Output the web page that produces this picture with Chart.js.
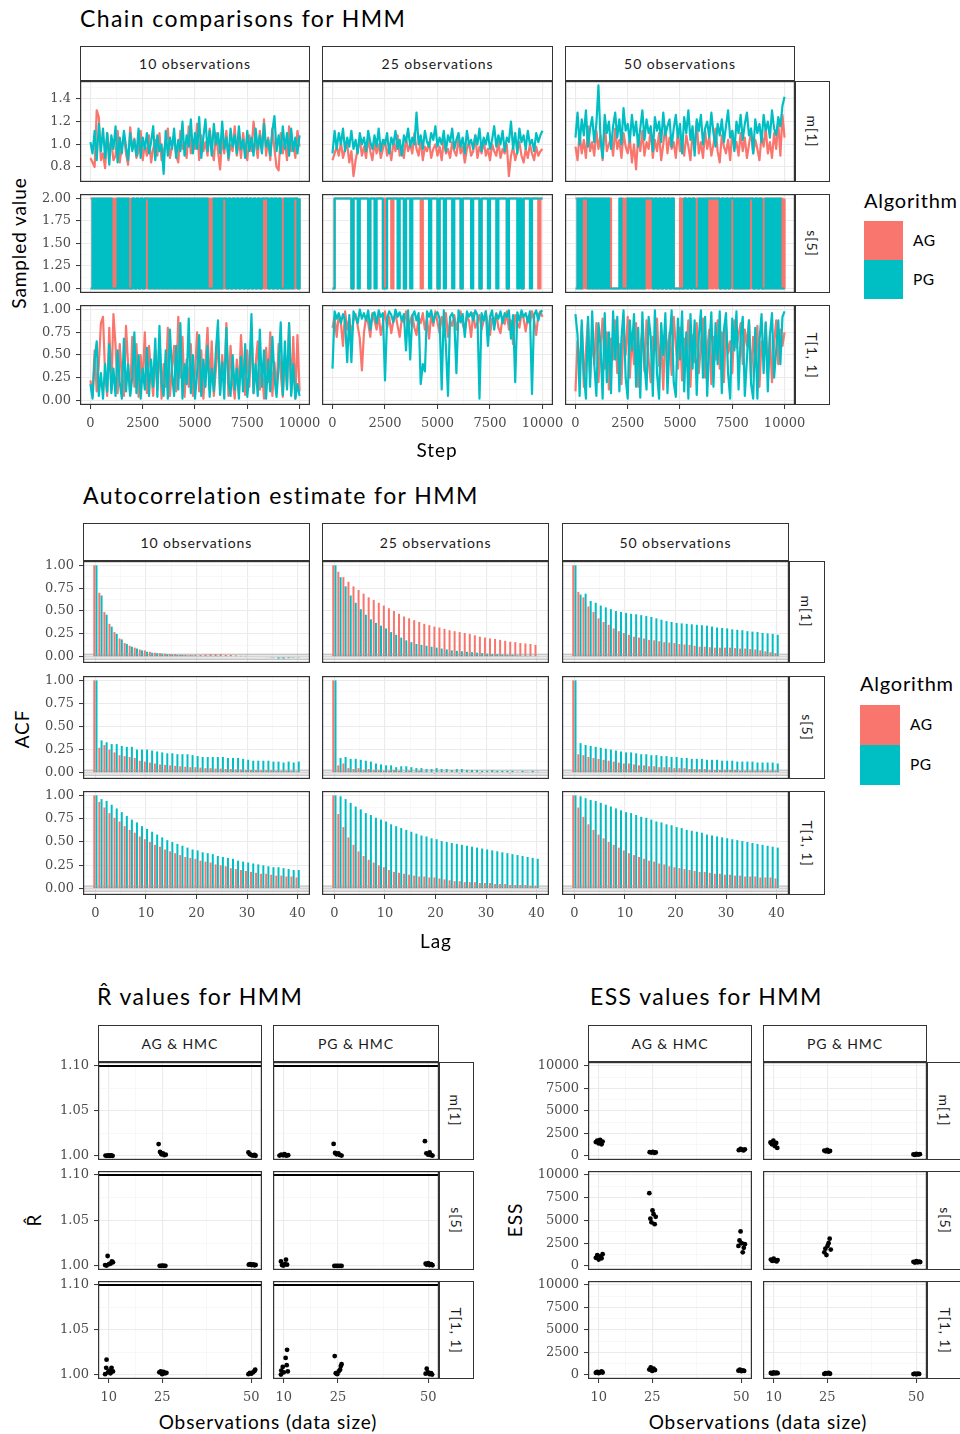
<!DOCTYPE html>
<html lang="en">
<head>
<meta charset="UTF-8">
<title>HMM chain diagnostics</title>
<script src="https://cdn.jsdelivr.net/npm/chart.js@4"></script>
<style>
  body { margin: 0; background: #fff; }
  #page { position: relative; width: 960px; height: 1434px; overflow: hidden; font-family: 'Lato', sans-serif; color: #000; }
  #page canvas { position: absolute; }
  .txt { position: absolute; white-space: nowrap; line-height: 1; }
  .title { font-size: 23px; letter-spacing: 1.4px; }
  .axt { font-size: 19px; letter-spacing: 0.9px; transform: translate(-50%, -50%); }
  .axt.rot { transform: translate(-50%, -50%) rotate(-90deg); }
  .leg { font-size: 20px; letter-spacing: 0.8px; }
  .legk { font-size: 15.5px; letter-spacing: 0.5px; transform: translateY(-50%); }
  .strip { position: absolute; box-sizing: border-box; border: 1.2px solid #333; background: #fff; display: flex; align-items: center; justify-content: center; font-size: 14px; letter-spacing: 0.9px; color: #1A1A1A; }
  .strip span { white-space: nowrap; }
  .strip.v span { transform: rotate(90deg); }
  .swatch { position: absolute; }
</style>
</head>
<body>
<div id="page"></div>
<script>
// colours used by ggplot for the two samplers
const RED = '#F8766D', TEAL = '#00BFC4';

// ---- trace data (one value every 100 steps) ----
const M1_10_AG = [0.88,0.84,0.80,1.30,1.24,0.86,0.92,0.79,1.10,0.95,
  1.02,0.86,0.90,1.12,0.84,0.98,1.08,0.92,0.82,1.15,
  0.96,1.05,0.88,0.94,1.12,0.86,1.00,0.90,1.08,0.84,
  0.96,1.04,0.90,1.10,0.86,0.94,1.02,1.14,0.88,0.98,
  1.06,0.90,0.84,1.12,0.96,1.00,0.88,1.16,0.92,1.04,
  0.96,1.18,0.86,1.08,0.94,1.02,0.90,1.14,0.98,0.86,
  1.10,0.94,0.78,1.06,0.92,1.12,0.86,1.00,0.94,1.16,
  0.90,1.04,0.88,1.10,0.96,0.86,1.08,0.94,1.20,1.02,
  0.88,1.12,0.94,1.22,0.90,1.06,0.86,1.14,0.96,0.80,
  0.77,1.10,0.92,1.04,0.86,1.16,0.94,1.02,0.88,1.12,
  0.98];
const M1_10_PG = [1.02,0.92,1.12,0.86,1.18,0.94,1.14,0.88,1.10,0.82,
  1.08,0.96,1.16,0.84,1.06,0.92,1.12,0.98,0.86,1.10,
  0.94,1.04,0.90,1.14,0.88,1.06,0.96,1.10,0.92,1.02,
  1.16,0.86,1.08,0.94,1.00,0.74,1.12,0.90,1.06,0.96,
  1.14,0.88,1.04,0.94,1.20,0.90,1.08,0.98,1.22,0.92,
  1.10,0.96,1.24,0.88,1.06,1.22,0.94,1.12,0.90,1.18,
  1.00,1.10,0.92,1.20,0.96,1.06,0.88,1.14,0.98,1.08,
  0.92,1.16,0.96,1.04,0.88,1.12,0.94,1.06,0.90,1.14,
  0.96,1.08,0.92,1.18,0.98,1.04,0.90,1.12,1.25,0.94,
  1.08,0.92,1.16,0.96,1.10,0.90,1.14,0.94,1.06,0.92,
  1.08];
const M1_25_AG = [0.86,0.92,0.98,0.90,1.02,0.88,0.96,1.00,0.84,0.94,
  0.72,0.86,0.96,1.04,0.90,0.98,0.88,1.06,0.94,0.86,
  1.02,0.92,1.00,0.88,0.96,1.04,0.90,0.98,0.86,1.02,
  0.94,1.08,0.90,0.98,0.88,1.06,0.94,1.00,0.92,1.10,
  0.96,0.90,1.04,0.86,0.98,0.94,1.02,0.88,0.96,1.00,
  0.90,0.98,0.86,1.04,0.92,0.96,0.88,1.02,0.94,0.90,
  1.06,0.92,0.98,0.84,0.96,1.02,0.90,0.94,1.08,0.88,
  0.98,0.92,1.04,0.90,0.96,0.86,1.00,0.94,0.90,1.02,
  0.88,0.96,0.92,1.00,0.72,0.90,0.98,0.86,0.94,1.02,
  0.90,0.84,0.96,0.88,1.00,0.92,0.86,0.98,0.90,0.94,
  0.96];
const M1_25_PG = [0.92,1.12,0.96,1.10,1.00,1.14,0.94,1.06,0.98,1.12,
  0.96,1.04,0.92,1.10,1.00,1.06,0.94,1.12,1.02,0.96,
  1.08,0.98,1.14,0.94,1.04,1.00,1.10,0.92,1.06,1.00,
  1.12,0.96,1.04,0.90,1.08,1.02,1.14,0.98,1.06,1.00,
  1.28,1.00,1.08,0.96,1.12,1.02,0.98,1.10,1.04,1.16,
  0.98,1.06,1.00,1.12,0.94,1.08,1.02,1.14,0.96,1.04,
  1.10,0.98,1.06,0.92,1.12,1.00,1.04,0.96,1.08,1.00,
  1.14,0.94,1.06,1.00,1.10,0.96,1.04,1.16,0.98,1.08,
  1.00,1.12,0.94,1.06,1.02,1.20,0.96,1.10,0.92,1.14,
  1.02,1.08,0.96,1.12,1.00,1.04,0.94,1.10,1.02,1.08,
  1.12];
const M1_50_AG = [0.98,0.86,1.10,0.92,1.04,0.88,1.16,0.94,1.02,0.90,
  1.12,0.96,1.08,0.86,1.20,0.94,1.00,1.06,0.90,1.14,
  0.96,1.04,0.88,1.10,0.98,0.92,1.06,0.84,1.00,0.78,
  1.08,0.94,1.12,0.90,1.02,0.96,1.14,0.88,1.04,0.94,
  1.10,0.86,1.00,1.16,0.92,1.06,0.96,1.02,0.88,1.12,
  0.94,1.04,0.90,1.08,0.98,0.86,1.10,0.96,1.20,0.92,
  1.02,0.88,1.12,0.96,1.06,0.90,1.00,1.14,0.94,0.84,
  1.08,0.98,0.92,1.04,0.86,1.12,0.96,1.02,0.90,1.10,
  0.94,1.06,0.88,1.00,1.12,0.92,1.04,0.96,0.86,1.08,
  0.98,1.14,0.92,1.02,0.88,1.10,0.96,1.20,0.90,1.26,
  1.06];
const M1_50_PG = [1.06,1.28,1.00,1.22,1.08,1.30,0.98,1.14,1.24,1.02,
  1.18,1.52,1.04,0.88,1.26,1.10,1.20,0.96,1.16,1.28,
  1.06,1.22,1.00,1.32,1.12,1.18,1.02,1.26,1.08,1.20,
  0.98,1.14,1.30,1.04,1.22,1.10,1.16,0.94,1.24,1.12,
  1.20,1.02,1.28,1.08,1.16,1.22,0.98,1.14,1.26,1.06,
  1.18,0.92,1.24,1.10,1.30,1.04,1.16,0.90,1.22,1.12,
  1.26,1.00,1.14,1.20,1.06,1.28,1.10,0.98,1.18,1.08,
  1.22,1.02,1.16,1.30,1.06,1.12,0.94,1.20,1.10,1.26,
  1.04,1.18,1.28,1.08,1.14,0.92,1.22,1.10,1.18,1.02,
  1.26,1.12,1.20,1.06,1.30,1.14,1.08,1.24,1.16,1.34,
  1.42];

const S5_10_AG = [2,1,2,1,2,1,2,1,2,1, 2,1,2,1,2,1,2,1,2,1, 2,1,2,1,2,1,2,1,2,1,
  2,1,2,1,2,1,2,1,2,1, 2,1,2,1,2,1,2,1,2,1, 2,1,2,1,2,1,2,1,2,1, 2,1,2,1,2,1,2,1,2,1,
  2,1,2,1,2,1,2,1,2,1, 2,1,2,1,2,1,2,1,2,1, 2,1,2,1,2,1,2,1,2,1, 2];
const S5_10_PG = [1,2,1,2,1,2,1,2,1,2, 1,1,1,2,1,2,1,2,1,1, 2,1,2,1,2,1,2,2,1,2,
  1,2,1,2,1,2,1,2,1,2, 1,2,1,2,1,2,1,2,1,2, 1,2,1,2,1,2,1,1,1,2, 1,2,1,2,2,1,2,1,2,1,
  2,1,2,1,2,1,2,1,2,1, 2,1,2,2,2,1,2,1,2,1, 2,1,1,2,1,2,1,2,2,1, 2];
const S5_25_AG = [1,2,2,2,2,2,2,2,2,1, 2,2,2,2,2,2,2,1,2,2, 2,2,2,2,1,2,2,2,1,2,
  2,2,2,2,1,2,2,2,2,2, 2,2,1,2,2,2,2,2,2,2, 1,2,2,2,2,2,2,2,2,2, 2,1,2,2,2,2,2,2,2,2,
  1,2,2,2,2,2,2,2,2,2, 2,2,2,1,2,2,2,2,2,2, 1,2,2,2,2,2,2,2,1,2, 2];
const S5_25_PG = [1,2,2,2,2,2,2,2,2,1, 2,2,1,2,2,2,2,1,2,2, 1,2,2,2,1,1,2,2,2,2,
  2,1,2,2,1,2,2,1,2,2, 2,2,2,2,2,2,1,2,2,2, 1,2,2,1,2,2,2,1,2,2, 2,1,2,2,2,2,1,2,2,2,
  1,2,2,2,1,2,2,2,1,2, 2,2,2,1,2,2,2,2,1,2, 1,2,2,2,1,2,2,2,2,2, 2];
const S5_50_AG = [2,1,2,1,2,1,2,1,2,1, 2,1,2,1,2,1,2,1,1,1, 1,1,2,1,2,1,2,1,2,1,
  2,1,2,1,2,1,2,1,2,1, 2,1,2,1,2,1,2,1,1,1, 2,1,2,1,2,1,2,1,2,1, 2,1,2,1,2,1,2,1,2,1,
  2,1,2,1,2,1,2,1,2,1, 2,1,2,1,2,1,2,1,2,1, 2,1,2,1,2,1,2,1,2,1, 2];
const S5_50_PG = [1,2,1,2,2,2,1,2,1,2, 1,2,1,2,1,2,1,1,1,1, 1,2,1,1,1,2,1,2,1,2,
  1,2,1,2,2,2,2,1,2,1, 2,1,2,1,2,1,2,1,1,1, 1,1,2,1,2,1,2,1,1,2, 1,2,1,2,2,2,2,2,2,1,
  2,1,2,1,2,2,1,2,1,2, 1,2,1,2,2,1,2,1,2,1, 1,2,1,2,1,2,1,2,1,1, 1];

const T11_10_AG = [0.22,0.05,0.55,0.10,0.40,0.85,0.92,0.30,0.05,0.80,
  0.12,0.95,0.60,0.08,0.62,0.25,0.05,0.82,0.40,0.06,
  0.70,0.15,0.62,0.04,0.50,0.20,0.75,0.08,0.60,0.30,
  0.05,0.55,0.12,0.68,0.02,0.40,0.15,0.80,0.05,0.35,
  0.60,0.10,0.92,0.25,0.70,0.04,0.45,0.15,0.62,0.05,
  0.30,0.75,0.10,0.55,0.02,0.40,0.80,0.12,0.65,0.05,
  0.35,0.70,0.08,0.50,0.18,0.85,0.05,0.60,0.22,0.02,
  0.45,0.10,0.72,0.30,0.06,0.55,0.15,0.80,0.08,0.40,
  0.65,0.12,0.35,0.02,0.58,0.20,0.75,0.05,0.42,0.10,
  0.62,0.30,0.04,0.50,0.15,0.85,0.08,0.70,0.02,0.72,
  0.10];
const T11_10_PG = [0.18,0.02,0.45,0.65,0.05,0.30,0.02,0.40,0.10,0.62,
  0.08,0.35,0.05,0.55,0.20,0.02,0.68,0.10,0.40,0.05,
  0.25,0.75,0.08,0.50,0.02,0.35,0.12,0.58,0.05,0.45,
  0.15,0.68,0.04,0.82,0.20,0.05,0.55,0.02,0.78,0.30,
  0.05,0.60,0.12,0.85,0.02,0.40,0.18,0.90,0.08,0.50,
  0.02,0.30,0.72,0.05,0.45,0.15,0.60,0.04,0.35,0.10,
  0.55,0.88,0.06,0.42,0.02,0.80,0.20,0.05,0.50,0.12,
  0.35,0.02,0.48,0.10,0.62,0.04,0.30,0.95,0.08,0.40,
  0.05,0.78,0.15,0.55,0.02,0.45,0.10,0.70,0.25,0.04,
  0.38,0.86,0.06,0.65,0.12,0.85,0.05,0.40,0.02,0.18,
  0.05];
const T11_25_AG = [0.80,0.92,0.70,0.95,0.85,0.60,0.98,0.78,0.90,0.72,
  0.88,0.95,0.82,0.68,0.33,0.75,0.92,0.85,0.70,0.96,
  0.88,0.78,0.94,0.72,0.85,0.98,0.80,0.92,0.74,0.88,
  0.95,0.82,0.70,0.90,0.86,0.98,0.76,0.88,0.94,0.80,
  0.72,0.92,0.85,0.96,0.78,0.90,0.68,0.94,0.82,0.98,
  0.86,0.74,0.92,0.80,0.96,0.70,0.88,0.82,0.94,0.78,
  0.90,0.98,0.84,0.76,0.92,0.88,0.70,0.96,0.80,0.86,
  0.94,0.78,0.88,0.98,0.82,0.72,0.90,0.86,0.96,0.80,
  0.74,0.92,0.84,0.98,0.78,0.88,0.62,0.94,0.86,0.80,
  0.96,0.90,0.76,0.92,0.84,0.98,0.88,0.72,0.94,0.98,
  0.92];
const T11_25_PG = [0.35,0.98,0.90,0.96,0.85,0.95,0.88,0.42,0.94,0.42,
  0.98,0.92,0.85,1.00,0.90,0.96,0.88,0.99,0.78,0.94,
  0.97,0.85,0.99,0.92,0.96,0.22,0.90,0.98,0.94,0.86,
  1.00,0.92,0.97,0.88,0.95,0.55,0.99,0.45,0.93,0.98,
  0.88,0.96,0.18,0.40,0.32,0.98,0.92,0.99,0.86,0.95,
  0.97,0.90,0.12,0.99,0.60,0.05,0.92,0.96,0.88,0.30,
  0.99,0.86,0.95,0.70,0.98,0.92,0.97,0.88,0.99,0.94,
  0.02,0.96,0.88,0.98,0.60,0.92,0.99,0.78,0.95,0.90,
  0.98,0.85,0.96,0.92,0.99,0.68,0.94,0.20,0.97,0.88,
  0.99,0.92,0.96,0.86,0.98,0.07,0.94,0.99,0.88,0.97,
  0.99];
const T11_50_AG = [0.10,0.65,0.30,0.82,0.15,0.55,0.88,0.25,0.70,0.40,
  0.85,0.20,0.60,0.90,0.35,0.75,0.12,0.68,0.45,0.88,
  0.30,0.62,0.18,0.80,0.50,0.92,0.25,0.72,0.40,0.85,
  0.15,0.58,0.78,0.32,0.88,0.45,0.20,0.70,0.55,0.90,
  0.38,0.65,0.12,0.82,0.48,0.75,0.28,0.92,0.60,0.35,
  0.80,0.22,0.68,0.50,0.88,0.15,0.72,0.42,0.85,0.30,
  0.62,0.90,0.25,0.55,0.78,0.18,0.70,0.45,0.88,0.35,
  0.75,0.20,0.82,0.52,0.65,0.30,0.88,0.58,0.72,0.85,
  0.40,0.78,0.60,0.88,0.25,0.70,0.48,0.82,0.15,0.65,
  0.55,0.85,0.30,0.72,0.20,0.62,0.88,0.40,0.78,0.60,
  0.75];
const T11_50_PG = [0.95,0.72,0.05,0.88,0.30,0.02,0.92,0.15,0.98,0.40,
  0.05,0.85,0.60,0.02,0.96,0.20,0.75,0.08,0.98,0.45,
  0.92,0.10,0.68,0.99,0.25,0.02,0.88,0.55,0.95,0.15,
  0.80,0.03,0.97,0.40,0.12,0.92,0.70,0.05,0.99,0.30,
  0.02,0.85,0.50,0.96,0.08,0.65,0.99,0.20,0.04,0.90,
  0.45,0.98,0.10,0.75,0.02,0.95,0.35,0.88,0.06,0.70,
  0.99,0.25,0.92,0.05,0.60,0.97,0.15,0.85,0.40,0.98,
  0.08,0.78,0.96,0.30,0.02,0.90,0.55,0.98,0.12,0.70,
  0.92,0.05,0.45,0.88,0.18,0.02,0.80,0.02,0.65,0.95,
  0.30,0.86,0.10,0.72,0.96,0.25,0.55,0.88,0.40,0.92,
  0.98];

// ---- autocorrelation estimates, lags 0..40 ----
const LAGS = [0,1,2,3,4,5,6,7,8,9,10,11,12,13,14,15,16,17,18,19,20,
  21,22,23,24,25,26,27,28,29,30,31,32,33,34,35,36,37,38,39,40];
const ACF_M1_10_AG = [1.00,0.70,0.49,0.36,0.27,0.20,0.15,0.12,0.10,0.08,
  0.07,0.055,0.045,0.04,0.035,0.03,0.03,0.025,0.02,0.02,
  0.02,0.02,0.025,0.03,0.03,0.03,0.02,0.02,0.015,0.01,
  0.01,0.005,0.0,0.0,-0.005,-0.01,0.0,-0.01,-0.005,-0.01,-0.005];
const ACF_M1_10_PG = [1.00,0.67,0.46,0.33,0.25,0.19,0.14,0.11,0.09,0.07,
  0.055,0.045,0.04,0.035,0.03,0.025,0.02,0.02,0.015,0.015,
  0.01,0.01,0.01,0.01,0.01,0.005,0.005,0.0,0.0,0.0,
  0.0,0.0,0.0,0.0,-0.005,-0.01,-0.02,-0.02,-0.015,-0.01,-0.01];
const ACF_M1_25_AG = [1.00,0.93,0.87,0.82,0.77,0.73,0.69,0.65,0.62,0.59,
  0.56,0.53,0.50,0.47,0.44,0.42,0.40,0.38,0.36,0.345,
  0.33,0.32,0.305,0.29,0.28,0.27,0.26,0.25,0.235,0.22,
  0.21,0.20,0.195,0.185,0.175,0.165,0.16,0.15,0.145,0.14,0.13];
const ACF_M1_25_PG = [1.00,0.87,0.77,0.67,0.59,0.52,0.46,0.41,0.37,0.34,
  0.31,0.27,0.24,0.21,0.18,0.16,0.14,0.13,0.12,0.11,
  0.10,0.09,0.08,0.07,0.065,0.06,0.055,0.05,0.045,0.04,
  0.035,0.03,0.03,0.025,0.02,0.02,0.015,0.01,0.01,0.005,0.005];
const ACF_M1_50_AG = [1.00,0.71,0.65,0.55,0.49,0.42,0.38,0.35,0.31,0.28,
  0.26,0.24,0.22,0.21,0.20,0.185,0.18,0.17,0.16,0.155,
  0.15,0.14,0.135,0.13,0.12,0.11,0.11,0.105,0.10,0.10,
  0.10,0.10,0.095,0.09,0.09,0.085,0.08,0.07,0.06,0.05,0.04];
const ACF_M1_50_PG = [1.00,0.68,0.69,0.61,0.59,0.56,0.54,0.52,0.50,0.49,
  0.48,0.47,0.465,0.455,0.445,0.435,0.42,0.405,0.39,0.38,
  0.37,0.365,0.36,0.355,0.35,0.345,0.34,0.33,0.32,0.315,
  0.31,0.30,0.295,0.29,0.28,0.275,0.27,0.26,0.255,0.25,0.24];
const ACF_S5_10_AG = [1.00,0.27,0.30,0.25,0.22,0.19,0.18,0.17,0.16,0.13,
  0.12,0.11,0.10,0.09,0.085,0.08,0.075,0.07,0.065,0.06,
  0.06,0.055,0.05,0.05,0.045,0.045,0.04,0.04,0.035,0.035,
  0.03,0.03,0.03,0.025,0.025,0.025,0.02,0.02,0.02,0.02,0.015];
const ACF_S5_10_PG = [1.00,0.35,0.33,0.31,0.31,0.29,0.28,0.28,0.25,0.25,
  0.25,0.24,0.23,0.22,0.21,0.21,0.20,0.20,0.20,0.19,
  0.18,0.17,0.17,0.17,0.17,0.17,0.16,0.16,0.16,0.15,
  0.14,0.13,0.13,0.13,0.13,0.12,0.12,0.11,0.12,0.11,0.12];
const ACF_S5_25_AG = [1.00,0.08,0.10,0.05,0.04,0.05,0.03,0.04,0.03,0.03,
  0.02,0.02,0.03,0.02,0.01,0.02,0.01,0.02,0.01,0.0,
  -0.01,0.01,0.01,0.0,0.01,-0.01,0.0,0.01,0.0,-0.01,
  0.0,0.0,0.01,0.0,0.0,-0.01,0.0,0.0,0.01,0.0,0.0];
const ACF_S5_25_PG = [1.00,0.16,0.17,0.15,0.15,0.14,0.13,0.12,0.10,0.09,
  0.08,0.08,0.06,0.07,0.07,0.06,0.05,0.05,0.04,0.04,
  0.05,0.04,0.04,0.03,0.04,0.04,0.03,0.03,0.03,0.02,
  0.02,0.03,0.02,0.02,0.02,0.02,0.01,0.02,0.01,0.02,0.01];
const ACF_S5_50_AG = [1.00,0.20,0.19,0.17,0.16,0.15,0.14,0.13,0.12,0.11,
  0.10,0.10,0.09,0.08,0.08,0.07,0.07,0.06,0.06,0.06,
  0.05,0.05,0.05,0.04,0.04,0.04,0.04,0.03,0.03,0.03,
  0.03,0.03,0.03,0.02,0.02,0.02,0.02,0.02,0.02,0.02,0.02];
const ACF_S5_50_PG = [1.00,0.32,0.30,0.29,0.28,0.27,0.26,0.25,0.24,0.23,
  0.22,0.22,0.21,0.20,0.20,0.19,0.19,0.18,0.18,0.17,
  0.17,0.16,0.16,0.15,0.15,0.15,0.14,0.14,0.14,0.13,
  0.13,0.13,0.12,0.12,0.12,0.12,0.11,0.11,0.11,0.11,0.10];
const ACF_T11_10_AG = [1.00,0.93,0.87,0.81,0.76,0.72,0.67,0.63,0.60,0.56,
  0.53,0.50,0.47,0.45,0.42,0.40,0.38,0.36,0.34,0.33,
  0.32,0.30,0.29,0.28,0.26,0.25,0.24,0.22,0.21,0.20,
  0.19,0.18,0.17,0.16,0.16,0.15,0.14,0.14,0.13,0.13,0.12];
const ACF_T11_10_PG = [1.00,0.96,0.94,0.90,0.86,0.82,0.78,0.74,0.71,0.67,
  0.64,0.61,0.58,0.55,0.52,0.50,0.48,0.46,0.44,0.42,
  0.41,0.39,0.38,0.37,0.35,0.34,0.33,0.32,0.30,0.29,
  0.28,0.27,0.26,0.25,0.24,0.23,0.23,0.22,0.21,0.20,0.20];
const ACF_T11_25_AG = [1.00,0.80,0.66,0.55,0.47,0.40,0.35,0.31,0.28,0.25,
  0.23,0.20,0.18,0.17,0.16,0.15,0.14,0.13,0.13,0.12,
  0.12,0.11,0.10,0.09,0.08,0.08,0.07,0.07,0.07,0.06,
  0.06,0.06,0.05,0.05,0.05,0.04,0.04,0.04,0.04,0.03,0.03];
const ACF_T11_25_PG = [1.00,0.99,0.96,0.92,0.88,0.85,0.81,0.79,0.76,0.74,
  0.72,0.69,0.67,0.65,0.63,0.61,0.59,0.57,0.56,0.54,
  0.53,0.51,0.50,0.49,0.48,0.47,0.46,0.45,0.44,0.43,
  0.42,0.41,0.40,0.39,0.38,0.37,0.36,0.35,0.34,0.33,0.32];
const ACF_T11_50_AG = [1.00,0.87,0.77,0.69,0.63,0.58,0.54,0.50,0.47,0.44,
  0.41,0.38,0.36,0.34,0.32,0.30,0.29,0.27,0.26,0.24,
  0.23,0.22,0.21,0.20,0.19,0.18,0.18,0.17,0.16,0.16,
  0.15,0.15,0.14,0.14,0.13,0.13,0.13,0.12,0.12,0.12,0.11];
const ACF_T11_50_PG = [1.00,0.99,0.97,0.95,0.94,0.92,0.90,0.88,0.86,0.84,
  0.82,0.81,0.79,0.77,0.76,0.74,0.72,0.71,0.69,0.68,
  0.66,0.65,0.63,0.62,0.61,0.60,0.58,0.57,0.56,0.55,
  0.54,0.53,0.52,0.51,0.50,0.49,0.48,0.47,0.46,0.45,0.44];
const ACF_BAND = 0.028;

// ---- R-hat per run, [observations (jittered), value] ----
const RHAT_AG_M1 = [[9.1,1.0005],[9.5,1.0002],[9.9,1.0008],[10.3,1.0003],[10.7,1.0006],[11.1,1.0002],
  [24.0,1.0133],[24.4,1.0045],[24.8,1.002],[25.2,1.003],[25.6,1.001],[26.0,1.0015],
  [49.2,1.004],[49.6,1.002],[50.1,1.001],[50.5,1.0005],[50.9,1.0012],[51.2,1.0003]];
const RHAT_PG_M1 = [[8.8,1.0005],[9.3,1.0015],[9.8,1.0008],[10.2,1.002],[10.7,1.0004],[11.2,1.001],
  [23.8,1.0135],[24.2,1.0035],[24.6,1.002],[25.1,1.003],[25.5,1.0012],[26.0,1.0005],
  [49.1,1.0165],[49.5,1.003],[50.0,1.0015],[50.4,1.004],[50.8,1.001],[51.2,1.0005]];
const RHAT_AG_S5 = [[9.0,1.001],[9.4,1.0005],[9.7,1.011],[10.1,1.002],[10.5,1.0025],[10.9,1.005],[11.2,1.004],
  [24.3,1.0002],[24.7,1.0001],[25.1,1.0003],[25.5,1.0001],[25.9,1.0002],
  [49.3,1.0015],[49.7,1.002],[50.1,1.001],[50.5,1.0018],[50.9,1.0008],[51.2,1.0012]];
const RHAT_PG_S5 = [[9.2,1.005],[9.5,1.001],[9.9,1.0005],[10.3,1.002],[10.6,1.007],[10.9,1.0015],
  [24.0,1.0001],[24.5,1.0002],[25.0,1.0001],[25.5,1.0002],[26.0,1.0001],
  [49.3,1.0025],[49.6,1.0015],[50.0,1.003],[50.4,1.001],[50.8,1.002],[51.2,1.0008]];
const RHAT_AG_T11 = [[9.0,1.001],[9.3,1.008],[9.4,1.017],[9.8,1.003],[10.2,1.005],[10.5,1.002],[10.8,1.008],[11.2,1.004],
  [24.2,1.003],[24.6,1.004],[25.0,1.001],[25.4,1.0035],[25.8,1.002],[26.2,1.0025],
  [49.2,1.001],[49.6,1.0025],[50.0,1.0015],[50.5,1.003],[50.9,1.0045],[51.1,1.006]];
const RHAT_PG_T11 = [[9.2,1.0005],[9.3,1.005],[9.7,1.009],[10.0,1.003],[10.5,1.019],[10.8,1.011],[10.9,1.028],[11.1,1.004],
  [24.1,1.021],[24.4,1.002],[24.8,1.001],[25.2,1.004],[25.6,1.006],[25.8,1.010],[26.0,1.012],
  [49.3,1.0015],[49.6,1.007],[50.0,1.003],[50.4,1.001],[50.8,1.002],[51.1,1.0005]];
const RHAT_LIMIT = 1.1;

// ---- effective sample size per run ----
const ESS_AG_M1 = [[9.2,1550],[9.6,1700],[10.0,1400],[10.4,1800],[10.8,1300],[11.1,1600],
  [24.3,420],[24.8,380],[25.2,450],[25.6,350],[26.0,400],
  [49.3,650],[49.8,780],[50.2,700],[50.6,620],[51.0,740]];
const ESS_PG_M1 = [[9.1,1500],[9.5,1300],[9.9,1700],[10.3,1100],[10.7,1450],[11.0,900],
  [24.2,600],[24.6,520],[25.0,680],[25.4,480],[25.8,560],
  [49.2,180],[49.6,120],[50.0,220],[50.5,150],[51.0,200]];
const ESS_AG_S5 = [[9.2,900],[9.6,1200],[10.0,700],[10.4,1050],[10.8,850],[11.1,1300],
  [24.2,8000],[24.5,5200],[24.8,4800],[25.1,6100],[25.4,5700],[25.7,4600],[26.0,5400],
  [49.2,2200],[49.5,2800],[49.8,3800],[50.1,2500],[50.4,1500],[50.7,2000],[51.0,2400]];
const ESS_PG_S5 = [[9.2,700],[9.6,550],[10.0,800],[10.4,600],[10.8,500],[11.1,650],
  [24.2,1500],[24.5,1900],[24.8,1200],[25.1,2200],[25.4,2500],[25.7,3000],[26.0,1800],
  [49.2,450],[49.6,380],[50.0,520],[50.4,400],[50.8,480],[51.1,430]];
const ESS_AG_T11 = [[9.2,250],[9.6,350],[10.0,200],[10.4,300],[10.8,400],[11.1,280],
  [24.2,600],[24.6,850],[25.0,450],[25.4,700],[25.8,550],
  [49.2,480],[49.6,600],[50.0,420],[50.4,520],[50.8,450]];
const ESS_PG_T11 = [[9.2,220],[9.6,150],[10.0,280],[10.4,180],[10.8,250],[11.1,200],
  [24.2,120],[24.6,200],[25.0,160],[25.4,240],[25.8,140],
  [49.2,100],[49.6,160],[50.0,80],[50.4,140],[50.8,120]];

// ---- facet labels and tick labels ----
const OBS_COLS = ['10 observations', '25 observations', '50 observations'];
const PARAMS = ['m[1]', 's[5]', 'T[1, 1]'];
const PAIRS = ['AG & HMC', 'PG & HMC'];
const STEP_TICKS = ['0', '2500', '5000', '7500', '10000'];
const M1_TICKS = ['0.8', '1.0', '1.2', '1.4'];
const S5_TICKS = ['1.00', '1.25', '1.50', '1.75', '2.00'];
const UNIT_TICKS = ['0.00', '0.25', '0.50', '0.75', '1.00'];
const LAG_TICKS = ['0', '10', '20', '30', '40'];
const OBS_TICKS = ['10', '25', '50'];
const RHAT_TICKS = ['1.00', '1.05', '1.10'];
const ESS_TICKS = ['0', '2500', '5000', '7500', '10000'];

const STEPS = M1_10_AG.map((_, i) => i * 100);

// ---------------------------------------------------------------
const page = document.getElementById('page');
const PAD = 3, XH = 26;

function addText(cls, text, x, y) {
  const d = document.createElement('div');
  d.className = 'txt ' + cls;
  d.textContent = text;
  d.style.left = x + 'px';
  d.style.top = y + 'px';
  page.appendChild(d);
  return d;
}

function addStrip(text, x0, y0, x1, y1, vertical) {
  const d = document.createElement('div');
  d.className = 'strip' + (vertical ? ' v' : '');
  d.style.left = x0 + 'px'; d.style.top = y0 + 'px';
  d.style.width = (x1 - x0) + 'px'; d.style.height = (y1 - y0) + 'px';
  const s = document.createElement('span');
  s.textContent = text;
  d.appendChild(s);
  page.appendChild(d);
}

function addLegend(x, titleY, swTop, sw) {
  addText('leg', 'Algorithm', x, titleY - 10);
  [['AG', RED], ['PG', TEAL]].forEach(([name, col], i) => {
    const b = document.createElement('div');
    b.className = 'swatch';
    b.style.left = x + 'px'; b.style.top = (swTop + i * sw) + 'px';
    b.style.width = sw + 'px'; b.style.height = sw + 'px';
    b.style.background = col;
    page.appendChild(b);
    addText('legk', name, x + sw + 10, swTop + i * sw + sw / 2);
  });
}

// major breaks from the labels, minor breaks halfway like ggplot does
function breaks(labels, lim) {
  const major = labels.map(Number);
  const d = major[1] - major[0];
  const b = [major[0] - d, ...major, major[major.length - 1] + d];
  const out = major.map((v, i) => ({ value: v, text: labels[i] }));
  for (let i = 0; i < b.length - 1; i++) {
    const m = (b[i] + b[i + 1]) / 2;
    if (m > lim[0] && m < lim[1]) out.push({ value: m, text: '', minor: true });
  }
  return out.sort((a, b) => a.value - b.value);
}

function scaleCfg(axis, lim, labels, show, size) {
  const ticks = breaks(labels, lim);
  const isMinor = c => c.tick && c.tick.minor;
  return {
    type: 'linear', min: lim[0], max: lim[1], offset: false,
    afterBuildTicks: s => { s.ticks = ticks.map(t => Object.assign({}, t)); },
    afterFit: s => {
      if (axis === 'y') s.width = show ? size : 0; else s.height = show ? size : 0;
      s.paddingLeft = s.paddingRight = s.paddingTop = s.paddingBottom = 0;
    },
    grid: {
      offset: false,
      color: c => isMinor(c) ? '#F3F3F3' : '#EBEBEB',
      lineWidth: c => isMinor(c) ? 0.6 : 1.1,
      drawTicks: show, tickLength: 4, tickWidth: 1,
      tickColor: c => isMinor(c) ? 'rgba(0,0,0,0)' : '#333333'
    },
    border: { display: false },
    ticks: {
      display: show, autoSkip: false, maxRotation: 0, minRotation: 0,
      padding: axis === 'x' ? 7 : 5,
      color: '#4D4D4D', font: { family: 'DejaVu Serif', size: 13 },
      callback: (v, i, t) => t[i].text
    }
  };
}

// border, confidence band and threshold line of a facet
const panelBox = {
  id: 'panelBox',
  afterDatasetsDraw(chart, args, opts) {
    const { ctx, chartArea: a } = chart;
    const y = chart.scales.y;
    ctx.save();
    if (opts.band !== undefined) {
      const y1 = y.getPixelForValue(opts.band), y2 = y.getPixelForValue(-opts.band);
      ctx.fillStyle = 'rgba(110,110,110,0.16)';
      ctx.fillRect(a.left, y1, a.width, y2 - y1);
      ctx.strokeStyle = '#A8A8A8';
      ctx.lineWidth = 0.8;
      ctx.beginPath();
      ctx.moveTo(a.left, y1); ctx.lineTo(a.right, y1);
      ctx.moveTo(a.left, y2); ctx.lineTo(a.right, y2);
      ctx.stroke();
    }
    if (opts.hline !== undefined) {
      const yy = y.getPixelForValue(opts.hline);
      ctx.strokeStyle = '#000';
      ctx.lineWidth = 2;
      ctx.beginPath(); ctx.moveTo(a.left, yy); ctx.lineTo(a.right, yy); ctx.stroke();
    }
    ctx.restore();
  },
  afterDraw(chart) {
    const { ctx, chartArea: a } = chart;
    ctx.save();
    ctx.strokeStyle = '#333333';
    ctx.lineWidth = 1.2;
    ctx.strokeRect(a.left + 0.6, a.top + 0.6, a.width - 1.2, a.height - 1.2);
    ctx.restore();
  }
};
Chart.register(panelBox);

function drawPanel(o) {
  const x = Math.round(o.x0), y = Math.round(o.y0);
  const w = Math.round(o.x1) - x, h = Math.round(o.y1) - y;
  const padL = o.showY ? o.yw : PAD, padR = o.showX ? 26 : PAD, padB = o.showX ? XH : PAD;
  const cv = document.createElement('canvas');
  cv.width = w + padL + padR; cv.height = h + PAD + padB;
  cv.style.left = (x - padL) + 'px'; cv.style.top = (y - PAD) + 'px';
  cv.style.width = cv.width + 'px'; cv.style.height = cv.height + 'px';
  page.appendChild(cv);
  new Chart(cv, {
    type: o.type,
    data: { labels: o.labels, datasets: o.datasets },
    options: {
      responsive: false, animation: false, devicePixelRatio: 1, events: [],
      layout: { autoPadding: false, padding: { left: o.showY ? 0 : PAD, right: padR, top: PAD, bottom: o.showX ? 0 : PAD } },
      plugins: { legend: { display: false }, tooltip: { enabled: false }, panelBox: o.extra || {} },
      scales: {
        x: scaleCfg('x', o.xLim, o.xLabels, o.showX, XH),
        y: scaleCfg('y', o.yLim, o.yLabels, o.showY, o.yw)
      }
    }
  });
}

// ================= 1. chain traces =================
addText('title', 'Chain comparisons for HMM', 80, 7);
const TR_COLS = [[80, 310], [322, 553], [565, 795]];
const TR_ROWS = [[81, 182], [194, 293], [305, 405]];
const TR_AG = [[M1_10_AG, M1_25_AG, M1_50_AG], [S5_10_AG, S5_25_AG, S5_50_AG], [T11_10_AG, T11_25_AG, T11_50_AG]];
const TR_PG = [[M1_10_PG, M1_25_PG, M1_50_PG], [S5_10_PG, S5_25_PG, S5_50_PG], [T11_10_PG, T11_25_PG, T11_50_PG]];
const TR_Y = [[[0.668, 1.559], M1_TICKS], [[0.95, 2.05], S5_TICKS], [[-0.05, 1.05], UNIT_TICKS]];

TR_COLS.forEach((c, j) => addStrip(OBS_COLS[j], c[0], 46, c[1], 81));
TR_ROWS.forEach((r, i) => {
  addStrip(PARAMS[i], 795, r[0], 830, r[1], true);
  TR_COLS.forEach((c, j) => {
    const line = (data, col) => ({ data, borderColor: col, borderWidth: 2.2, pointRadius: 0,
      tension: 0, borderJoinStyle: 'round', stepped: i === 1 });
    drawPanel({
      x0: c[0], x1: c[1], y0: r[0], y1: r[1], showX: i === 2, showY: j === 0, yw: 46,
      type: 'line', labels: STEPS,
      datasets: [line(TR_PG[i][j], TEAL), line(TR_AG[i][j], RED)],
      xLim: [-500, 10500], xLabels: STEP_TICKS, yLim: TR_Y[i][0], yLabels: TR_Y[i][1]
    });
  });
});
addText('axt rot', 'Sampled value', 18, 243);
addText('axt', 'Step', 437, 449);
addLegend(864, 200, 221, 39);

// ================= 2. autocorrelation =================
addText('title', 'Autocorrelation estimate for HMM', 83, 484);
const AC_COLS = [[82.7, 310], [322, 549.3], [561.7, 789.3]];
const AC_ROWS = [[560.7, 663.3], [675.7, 779], [791, 895]];
const AC_AG = [[ACF_M1_10_AG, ACF_M1_25_AG, ACF_M1_50_AG], [ACF_S5_10_AG, ACF_S5_25_AG, ACF_S5_50_AG], [ACF_T11_10_AG, ACF_T11_25_AG, ACF_T11_50_AG]];
const AC_PG = [[ACF_M1_10_PG, ACF_M1_25_PG, ACF_M1_50_PG], [ACF_S5_10_PG, ACF_S5_25_PG, ACF_S5_50_PG], [ACF_T11_10_PG, ACF_T11_25_PG, ACF_T11_50_PG]];

AC_COLS.forEach((c, j) => addStrip(OBS_COLS[j], c[0], 523, c[1], 561));
AC_ROWS.forEach((r, i) => {
  addStrip(PARAMS[i], 789.3, r[0], 825.3, r[1], true);
  AC_COLS.forEach((c, j) => {
    const bar = (data, col) => ({ data, backgroundColor: col, borderWidth: 0, barPercentage: 0.9, categoryPercentage: 0.88 });
    drawPanel({
      x0: c[0], x1: c[1], y0: r[0], y1: r[1], showX: i === 2, showY: j === 0, yw: 46,
      type: 'bar', labels: LAGS,
      datasets: [bar(AC_AG[i][j], RED), bar(AC_PG[i][j], TEAL)],
      xLim: [-2.45, 42.45], xLabels: LAG_TICKS, yLim: [-0.068, 1.047], yLabels: UNIT_TICKS,
      extra: { band: ACF_BAND }
    });
  });
});
addText('axt rot', 'ACF', 21, 729);
addText('axt', 'Lag', 436, 940);
addLegend(860, 683, 705, 40);

// ================= 3. R-hat and ESS =================
const SC_ROWS = [[1062, 1159.5], [1171, 1270], [1281, 1379.3]];
function scatterGrid(cols, stripR, yw, sets, yLim, yLabels, extra) {
  cols.forEach((c, j) => addStrip(PAIRS[j], c[0], 1025, c[1], 1062));
  SC_ROWS.forEach((r, i) => {
    addStrip(PARAMS[i], cols[1][1], r[0], stripR, r[1], true);
    cols.forEach((c, j) => {
      drawPanel({
        x0: c[0], x1: c[1], y0: r[0], y1: r[1], showX: i === 2, showY: j === 0, yw,
        type: 'scatter',
        datasets: [{ data: sets[i][j].map(([x, y]) => ({ x, y })), backgroundColor: '#000', pointRadius: 2.4, borderWidth: 0 }],
        xLim: [7, 53], xLabels: OBS_TICKS, yLim, yLabels, extra
      });
    });
  });
}

addText('title', 'R\u0302 values for HMM', 97, 985);
scatterGrid([[97.7, 262], [273.3, 438.7]], 474, 46,
  [[RHAT_AG_M1, RHAT_PG_M1], [RHAT_AG_S5, RHAT_PG_S5], [RHAT_AG_T11, RHAT_PG_T11]],
  [0.9956, 1.1044], RHAT_TICKS, { hline: RHAT_LIMIT });
addText('axt rot', 'R\u0302', 33, 1220);
addText('axt', 'Observations (data size)', 268, 1421);

addText('title', 'ESS values for HMM', 590, 985);
scatterGrid([[588, 752], [763, 927]], 963, 60,
  [[ESS_AG_M1, ESS_PG_M1], [ESS_AG_S5, ESS_PG_S5], [ESS_AG_T11, ESS_PG_T11]],
  [-444, 10444], ESS_TICKS);
addText('axt rot', 'ESS', 514, 1220);
addText('axt', 'Observations (data size)', 758, 1421);
</script>
</body>
</html>
